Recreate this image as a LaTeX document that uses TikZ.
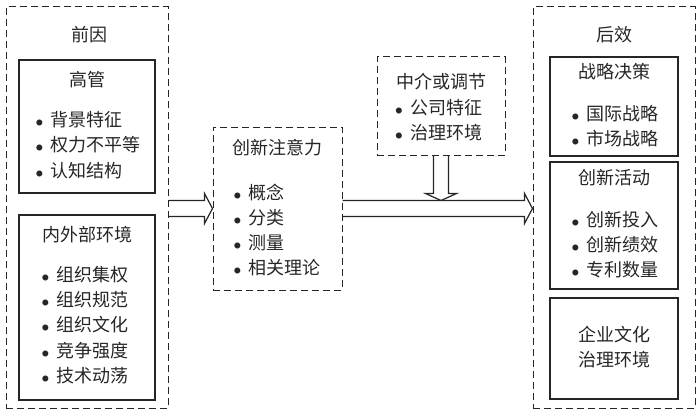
\documentclass[tikz,border=0pt]{standalone}
\usepackage{fontspec}
\newfontfamily\cjk{Noto Sans CJK SC}
\usetikzlibrary{calc}
\tikzset{
  frame/.style={draw=black!85,dash pattern=on 3.5pt off 2pt,line width=0.5pt},
  panel/.style={draw=black!85,line width=0.8pt},
  title/.style={text=black!85,font=\cjk\fontsize{9}{12.6}\selectfont,inner sep=0pt},
  items/.style={title,align=left},
  fatarrow/.style={draw=black!85,line width=0.6pt,line join=miter},
}
\newcommand{\itm}{{\scriptsize$\bullet$}\hspace{3.5pt}}
% fat arrow pointing right: start, tip
\newcommand{\rightfat}[2]{%
  \draw[fatarrow] ($(#1)+(0,-8)$) -- ($(#2)+(-8,-8)$) -- ($(#2)+(-8,-15)$) -- (#2)
    -- ($(#2)+(-8,15)$) -- ($(#2)+(-8,8)$) -- ($(#1)+(0,8)$);}
% fat arrow pointing down: start, tip
\newcommand{\downfat}[2]{%
  \draw[fatarrow] ($(#1)+(-7.5,0)$) -- ($(#2)+(-7.5,-7)$) -- ($(#2)+(-15.5,-7)$) -- (#2)
    -- ($(#2)+(15.5,-7)$) -- ($(#2)+(7.5,-7)$) -- ($(#1)+(7.5,0)$);}
\begin{document}
\begin{tikzpicture}[x=0.5pt,y=-0.5pt]
    \useasboundingbox (0,0) rectangle (700,417);
    % antecedents
    \node[frame,minimum width=81pt,minimum height=200.5pt] (cause) at (87,207.5) {};
    \node[panel,minimum width=68pt,minimum height=66.5pt] (tmt) at (87,126.5) {};
    \node[panel,minimum width=68pt,minimum height=92.5pt] (env) at (87,307.5) {};
    \node[title] (cause_t) at (89,35) {前因};
    \node[title] (tmt_t) at (87,80) {高管};
    \node[items] (tmt_l) at (88,145) {\itm 背景特征\\ \itm 权力不平等\\ \itm 认知结构};
    \node[title] (env_t) at (87,235) {内外部环境};
    \node[items] (env_l) at (85,325) {\itm 组织集权\\ \itm 组织规范\\ \itm 组织文化\\ \itm 竞争强度\\ \itm 技术动荡};
    % innovation attention
    \node[frame,minimum width=64.5pt,minimum height=81.5pt] (attn) at (277.5,208.5) {};
    \node[title] (attn_t) at (277.5,148) {创新注意力};
    \node[items] (attn_l) at (277,230) {\itm 概念\\ \itm 分类\\ \itm 测量\\ \itm 相关理论};
    % mediators
    \node[frame,minimum width=64pt,minimum height=49pt] (med) at (441,106) {};
    \node[title] (med_t) at (441,82) {中介或调节};
    \node[items] (med_l) at (438.5,120.5) {\itm 公司特征\\ \itm 治理环境};
    % outcomes
    \node[frame,minimum width=81pt,minimum height=200.5pt] (effect) at (614,207.5) {};
    \node[panel,minimum width=64pt,minimum height=49.5pt] (strat) at (614,106.5) {};
    \node[panel,minimum width=64pt,minimum height=63.5pt] (innov) at (614,225.5) {};
    \node[panel,minimum width=64pt,minimum height=50.5pt] (cult) at (614,348.5) {};
    \node[title] (effect_t) at (614,35) {后效};
    \node[title] (strat_t) at (614,72) {战略决策};
    \node[items] (strat_l) at (615,126.5) {\itm 国际战略\\ \itm 市场战略};
    \node[title] (innov_t) at (614,178) {创新活动};
    \node[items] (innov_l) at (615,244.5) {\itm 创新投入\\ \itm 创新绩效\\ \itm 专利数量};
    \node[title,align=center] (cult_t) at (614,347.5) {企业文化\\治理环境};
    % arrows
    \coordinate (meet) at ($(med.south |- attn.east)+(0,-8)$);
    \rightfat{cause.east |- attn.west}{attn.west}
    \rightfat{attn.east}{attn.east -| effect.west}
    \downfat{med.south}{meet}
\end{tikzpicture}
\end{document}
